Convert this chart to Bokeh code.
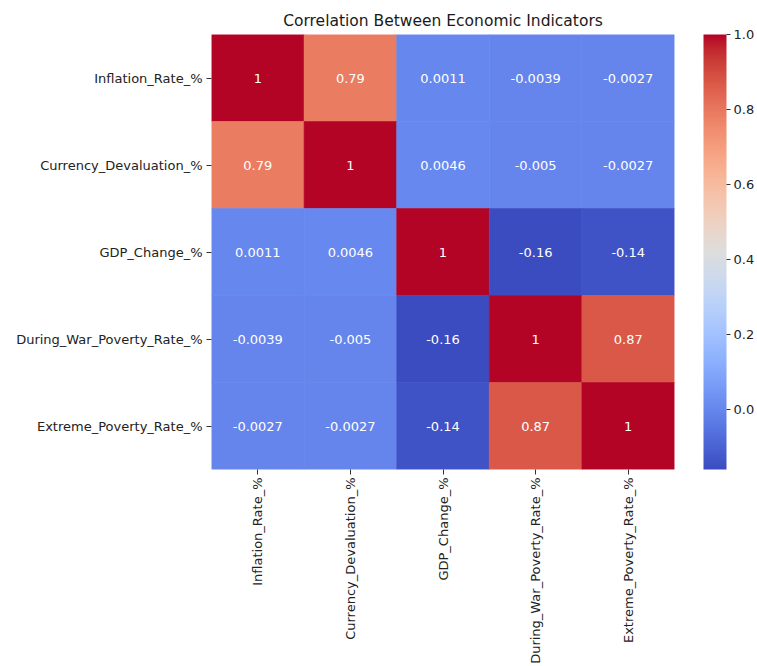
import numpy as np
from bokeh.plotting import figure
from bokeh.models import (ColumnDataSource, LinearColorMapper, ColorBar,
                          FixedTicker, PrintfTickFormatter, FactorRange)
from bokeh.transform import transform
from bokeh.core.properties import value
from bokeh.embed import file_html
from bokeh.resources import INLINE

# Indicator names (rows top to bottom, columns left to right)
indicators = ["Inflation_Rate_%", "Currency_Devaluation_%", "GDP_Change_%",
              "During_War_Poverty_Rate_%", "Extreme_Poverty_Rate_%"]

# Correlation matrix, one list per row
inflation_row = [1.0, 0.79, 0.0011, -0.0039, -0.0027]
currency_row = [0.79, 1.0, 0.0046, -0.005, -0.0027]
gdp_row = [0.0011, 0.0046, 1.0, -0.16, -0.14]
war_poverty_row = [-0.0039, -0.005, -0.16, 1.0, 0.87]
extreme_poverty_row = [-0.0027, -0.0027, -0.14, 0.87, 1.0]

colorbar_ticks = [0.0, 0.2, 0.4, 0.6, 0.8, 1.0]

matrix = [inflation_row, currency_row, gdp_row, war_poverty_row, extreme_poverty_row]

# Moreland "coolwarm" diverging map, resampled to 256 colours
cw_anchor = [
    (59, 76, 192), (68, 90, 204), (77, 104, 215), (87, 117, 225), (98, 130, 234),
    (108, 142, 241), (119, 154, 247), (130, 165, 251), (141, 176, 254), (152, 185, 255),
    (163, 194, 255), (174, 201, 253), (184, 208, 249), (194, 213, 244), (204, 217, 238),
    (213, 219, 230), (221, 221, 221), (229, 216, 209), (236, 211, 197), (241, 204, 184),
    (245, 196, 172), (247, 187, 159), (247, 177, 147), (247, 166, 134), (244, 154, 123),
    (241, 141, 111), (236, 127, 99), (229, 112, 89), (222, 96, 77), (213, 80, 66),
    (203, 62, 56), (192, 40, 47), (180, 4, 38)]
anchor_pos = np.linspace(0, 1, len(cw_anchor))
sample_pos = np.linspace(0, 1, 256)
anchor_arr = np.array(cw_anchor, dtype=float)
coolwarm = []
for t in sample_pos:
    r, g, b = (np.interp(t, anchor_pos, anchor_arr[:, k]) for k in range(3))
    coolwarm.append("#%02x%02x%02x" % (int(round(r)), int(round(g)), int(round(b))))

xs, ys, vals, labels = [], [], [], []
for i, row in enumerate(matrix):
    for j, v in enumerate(row):
        ys.append(indicators[i])
        xs.append(indicators[j])
        vals.append(v)
        labels.append(f"{v:.2g}")

source = ColumnDataSource(dict(x=xs, y=ys, value=vals, label=labels))

vmin = min(min(r) for r in matrix)
vmax = max(max(r) for r in matrix)
mapper = LinearColorMapper(palette=coolwarm, low=vmin, high=vmax)

FONT = "DejaVu Sans"

p = figure(width=757, height=666,
           x_range=FactorRange(*indicators),
           y_range=FactorRange(*list(reversed(indicators))),
           output_backend="svg", toolbar_location=None,
           min_border_left=211, min_border_right=80, min_border_top=34,
           title="Correlation Between Economic Indicators")

p.rect(x="x", y="y", width=1, height=1, source=source,
       fill_color=transform("value", mapper),
       line_color=transform("value", mapper), line_width=0.6)

p.text(x="x", y="y", text="label", source=source,
       text_align="center", text_baseline="middle",
       text_color="white", text_font=value(FONT), text_font_size="13px")

p.title.align = "center"
p.title.text_font = FONT
p.title.text_font_size = "15.5px"
p.title.text_font_style = "normal"
p.title.text_color = "#1a1a1a"

p.outline_line_color = None
p.xgrid.grid_line_color = None
p.ygrid.grid_line_color = None

for ax in (p.xaxis, p.yaxis):
    ax.axis_line_color = None
    ax.major_tick_in = 0
    ax.major_tick_out = 5
    ax.major_tick_line_color = "#333333"
    ax.minor_tick_line_color = None
    ax.major_label_text_font = FONT
    ax.major_label_text_font_size = "13px"
    ax.major_label_text_color = "#222222"
    ax.major_label_standoff = 4

# x labels read bottom-to-top
p.xaxis.major_label_orientation = np.pi / 2
p.xaxis.major_label_standoff = 3

color_bar = ColorBar(color_mapper=mapper, width=23, height=435,
                     location=(29, 0),
                     ticker=FixedTicker(ticks=colorbar_ticks),
                     formatter=PrintfTickFormatter(format="%.1f"),
                     major_tick_in=0, major_tick_out=4,
                     major_tick_line_color="#333333",
                     minor_tick_line_color=None,
                     bar_line_color=None, border_line_color=None,
                     background_fill_color=None,
                     major_label_text_font=FONT,
                     major_label_text_font_size="13px",
                     major_label_text_color="#222222",
                     label_standoff=3, padding=0, margin=0)
p.add_layout(color_bar, "right")

open("out.html", "w").write(file_html(p, INLINE))
